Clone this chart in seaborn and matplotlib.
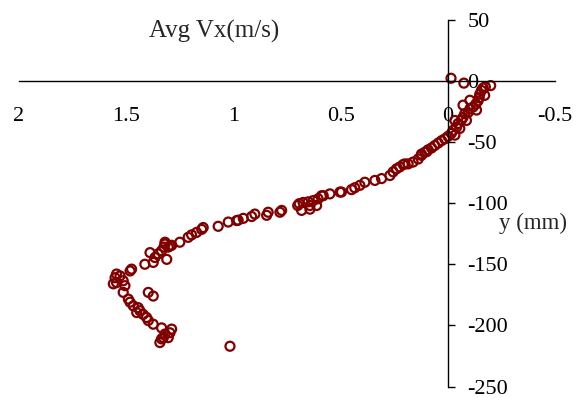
import matplotlib
matplotlib.use("Agg")
import matplotlib.pyplot as plt
import seaborn as sns
import pandas as pd

# Average Vx (m/s) vs y (mm)
avg_vx = [
    -0.015, -0.075, -0.200, -0.175,
    -0.165, -0.157, -0.149, -0.172, -0.146, -0.141, -0.103, -0.131, -0.071, -0.118,
    -0.103, -0.134, -0.095, -0.079, -0.071, -0.064, -0.087, -0.033, -0.048, -0.041,
    -0.056, -0.025, -0.017, -0.033, -0.001, 0.014, 0.029, 0.045, 0.061, 0.076,
    0.092, 0.099, 0.107, 0.123, 0.123, 0.138, 0.162, 0.185, 0.200, 0.208,
    0.224, 0.239, 0.255, 0.270, 0.309, 0.340, 0.387, 0.410, 0.434, 0.449,
    0.496, 0.503, 0.550, 0.581, 0.589, 0.605, 0.612, 0.628, 0.643, 0.643,
    0.651, 0.675, 0.682, 0.693, 0.700,
    0.775, 0.783, 0.838, 0.845, 0.900, 0.915, 0.954, 0.978, 0.985, 1.024,
    1.071, 1.141, 1.148, 1.172, 1.195, 1.211, 1.250, 1.288, 1.296, 1.319,
    1.319, 1.324, 1.304, 1.335, 1.351, 1.389, 1.366, 1.311, 1.374, 1.413,
    1.475, 1.482, 1.545, 1.529, 1.552, 1.545, 1.514, 1.560, 1.506, 1.514,
    1.397, 1.374, 1.490, 1.482, 1.467, 1.444, 1.436, 1.451, 1.421, 1.405,
    1.397, 1.374, 1.335, 1.288, 1.296, 1.319, 1.327, 1.304, 1.335, 1.343,
    1.016,
]
y_mm = [
    2.0, -2.0, -4.0, -5.0,
    -6.0, -8.0, -11.0, -12.0, -14.0, -16.5, -16.0, -19.0, -20.0, -21.5,
    -23.0, -24.0, -26.0, -27.0, -30.0, -32.0, -32.5, -32.5, -35.0, -38.0,
    -39.0, -40.5, -43.0, -44.5, -45.5, -47.5, -49.0, -51.0, -53.0, -55.0,
    -56.5, -58.0, -58.5, -60.0, -61.0, -64.0, -66.5, -68.0, -68.0, -68.5,
    -70.5, -72.0, -74.5, -77.5, -80.0, -81.5, -83.0, -85.5, -87.5, -89.0,
    -91.0, -91.0, -92.5, -94.0, -94.0, -96.5, -102.0, -98.0, -102.0, -105.0,
    -99.0, -99.5, -106.0, -100.5, -102.0,
    -106.0, -107.5, -107.5, -110.0, -109.0, -111.0, -112.5, -114.0, -114.3, -115.5,
    -119.0, -120.0, -121.5, -124.0, -126.0, -128.0, -132.0, -134.5, -135.0, -132.0,
    -133.5, -136.0, -136.0, -139.0, -141.5, -140.5, -144.5, -146.0, -148.5, -150.0,
    -154.0, -155.5, -158.0, -159.5, -161.0, -165.0, -163.5, -166.0, -167.5, -173.0,
    -173.0, -176.0, -178.5, -181.0, -184.0, -185.5, -188.0, -189.5, -191.0, -193.5,
    -196.0, -199.0, -202.0, -203.0, -206.0, -207.0, -210.0, -210.0, -211.0, -214.0,
    -217.0,
]
x_ticks = [2, 1.5, 1, 0.5, 0, -0.5]
x_tick_labels = ["2", "1.5", "1", "0.5", "0", "-0.5"]
y_ticks = [50, 0, -50, -100, -150, -200, -250]
y_tick_labels = ["50", "0", "-50", "-100", "-150", "-200", "-250"]
x_title = "Avg Vx(m/s)"
y_title = "y (mm)"

sns.set_style("white")
plt.rcParams["font.family"] = ["Liberation Serif", "DejaVu Serif"]

df = pd.DataFrame({"vx": avg_vx, "y": y_mm})

fig = plt.figure(figsize=(5.78, 3.98), dpi=100)
ax = fig.add_axes([0.0329, 0.0286, 0.9273, 0.9224])

sns.scatterplot(data=df, x="vx", y="y", ax=ax, marker="o", s=42,
                facecolors="none", edgecolor="#800000", linewidth=1.6,
                legend=False, clip_on=False)

ax.set_xlim(2, -0.5)
ax.set_ylim(-250, 50)

for s in ["top", "left"]:
    ax.spines[s].set_visible(False)
ax.spines["bottom"].set_position(("data", 0))
ax.spines["right"].set_position(("data", 0))
for s in ["bottom", "right"]:
    ax.spines[s].set_color("black")
    ax.spines[s].set_linewidth(1.0)

ax.yaxis.tick_right()
ax.set_xticks(x_ticks)
ax.set_xticklabels(x_tick_labels)
ax.set_yticks(y_ticks)
ax.set_yticklabels(y_tick_labels)
ax.tick_params(axis="x", direction="in", length=6, width=1.0, pad=19,
               labelsize=16, colors="black")
ax.tick_params(axis="y", direction="out", length=5, width=1.0, pad=9,
               labelsize=16, colors="black", right=True, left=False)
ax.set_xlabel("")
ax.set_ylabel("")

ax.text(1.09, 40.5, x_title, ha="center", va="center", fontsize=18)
ax.text(-0.24, -117, y_title, ha="left", va="center", fontsize=16.5)

fig.savefig("out.png", dpi=100)
